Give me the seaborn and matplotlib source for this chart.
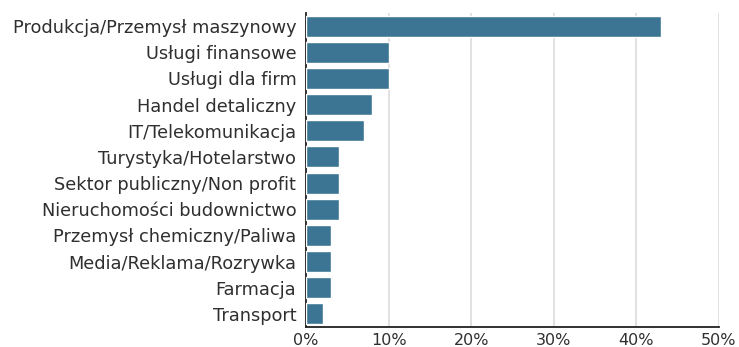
import pandas as pd
import matplotlib.pyplot as plt
import seaborn as sns
import numpy as np
from matplotlib.ticker import PercentFormatter, FixedLocator

sectors = [
    'Produkcja/Przemysł maszynowy',
    'Usługi finansowe',
    'Usługi dla firm',
    'Handel detaliczny',
    'IT/Telekomunikacja',
    'Turystyka/Hotelarstwo',
    'Sektor publiczny/Non profit',
    'Nieruchomości budownictwo',
    'Przemysł chemiczny/Paliwa',
    'Media/Reklama/Rozrywka',
    'Farmacja',
    'Transport',
]
shares = [43, 10, 10, 8, 7, 4, 4, 4, 3, 3, 3, 2]
x_ticks = [0, 10, 20, 30, 40, 50]

df = pd.DataFrame({'sector': sectors, 'share': shares})

sns.set_style('white')
plt.rcParams['font.family'] = ['DejaVu Sans']

fig = plt.figure(figsize=(7.39, 3.47), dpi=100)
ax = fig.add_axes([306/739, 20/347, (719-306)/739, (334-20)/347])

sns.barplot(data=df, x='share', y='sector', color='#3c7594', saturation=1,
            width=0.8, ax=ax, zorder=3)

ax.set_xlim(0, 50)
ax.set_ylim(len(sectors) - 0.5, -0.5)
ax.set_xticks(x_ticks)
ax.xaxis.set_major_formatter(PercentFormatter(decimals=0))
ax.grid(axis='x', color='#dcdcdc', linewidth=1.2, zorder=0)
ax.set_xlabel('')
ax.set_ylabel('')

for side in ['top', 'right']:
    ax.spines[side].set_visible(False)
for side in ['left', 'bottom']:
    ax.spines[side].set_color('#222222')
    ax.spines[side].set_linewidth(1.3)

ax.tick_params(axis='y', length=0, pad=7, labelsize=12.8, labelcolor='#2f2f2f')
ax.tick_params(axis='x', length=0, pad=4, labelsize=11.5, labelcolor='#2f2f2f')
ax.yaxis.set_minor_locator(FixedLocator(np.arange(-0.5, len(sectors), 1)))
ax.tick_params(axis='y', which='minor', length=3, width=1, color='#222222', direction='inout')

fig.savefig('out.png', dpi=100)
